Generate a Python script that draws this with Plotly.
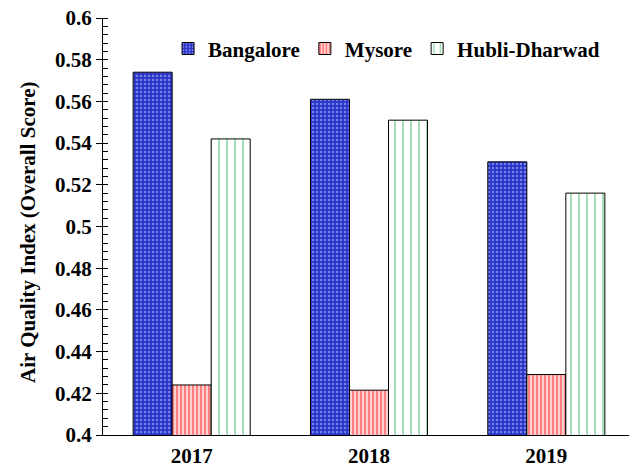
import plotly.graph_objects as go

years = ["2017", "2018", "2019"]
bangalore = [0.574, 0.561, 0.531]
mysore = [0.424, 0.4215, 0.429]
hubli = [0.542, 0.551, 0.516]
yticks = [0.4, 0.42, 0.44, 0.46, 0.48, 0.5, 0.52, 0.54, 0.56, 0.58, 0.6]
yticklabels = ["0.4", "0.42", "0.44", "0.46", "0.48", "0.5", "0.52", "0.54", "0.56", "0.58", "0.6"]
ytitle = "Air Quality Index (Overall Score)"

FONT = "Liberation Serif"

fig = go.Figure()
fig.add_trace(go.Bar(
    name="Bangalore", x=years, y=bangalore,
    marker=dict(color="#2a35c9", line=dict(color="black", width=1),
                pattern=dict(shape=".", fgcolor="#c8ccff", bgcolor="#2a35c9", size=4, solidity=0.3)),
))
fig.add_trace(go.Bar(
    name="Mysore", x=years, y=mysore,
    marker=dict(color="white", line=dict(color="black", width=1),
                pattern=dict(shape="|", fgcolor="#ff3030", bgcolor="#ffd0d0", size=4, solidity=0.5)),
))
fig.add_trace(go.Bar(
    name="Hubli-Dharwad", x=years, y=hubli,
    marker=dict(color="white", line=dict(color="black", width=1),
                pattern=dict(shape="|", fgcolor="#1fae45", bgcolor="white", size=8, solidity=0.2)),
))

fig.update_layout(
    width=637, height=475,
    barmode="group", bargap=0.34, bargroupgap=0,
    plot_bgcolor="white", paper_bgcolor="white",
    margin=dict(l=95, r=10, t=10, b=48, autoexpand=False),
    font=dict(family=FONT, size=21, color="black"),
    legend=dict(orientation="h", x=0.533, xanchor="center", y=0.926, yanchor="middle",
                font=dict(family=FONT, size=21, color="black", weight="bold"),
                itemwidth=30, tracegroupgap=0, bgcolor="rgba(0,0,0,0)"),
    showlegend=True,
    annotations=[dict(text=ytitle, xref="paper", yref="paper", x=-0.141, y=0.487,
                      xanchor="center", yanchor="middle", textangle=-90, showarrow=False,
                      font=dict(family=FONT, size=21, color="black", weight="bold"))],
)
fig.update_xaxes(
    showline=True, linecolor="black", linewidth=1, ticks="",
    tickfont=dict(family=FONT, size=21, color="black", weight="bold"),
    showgrid=False, ticklabelstandoff=2, automargin=False,
)
fig.update_yaxes(
    range=[0.4, 0.6], tickvals=yticks, ticktext=yticklabels,
    showline=True, linecolor="black", linewidth=1,
    ticks="outside", ticklen=6, tickcolor="black",
    minor=dict(dtick=0.004, ticks="inside", ticklen=5, tickcolor="black", showgrid=False),
    showgrid=False, zeroline=False, automargin=False, ticklabeloverflow="allow",
    tickfont=dict(family=FONT, size=21, color="black", weight="bold"),
)
fig.write_html("out.html")
